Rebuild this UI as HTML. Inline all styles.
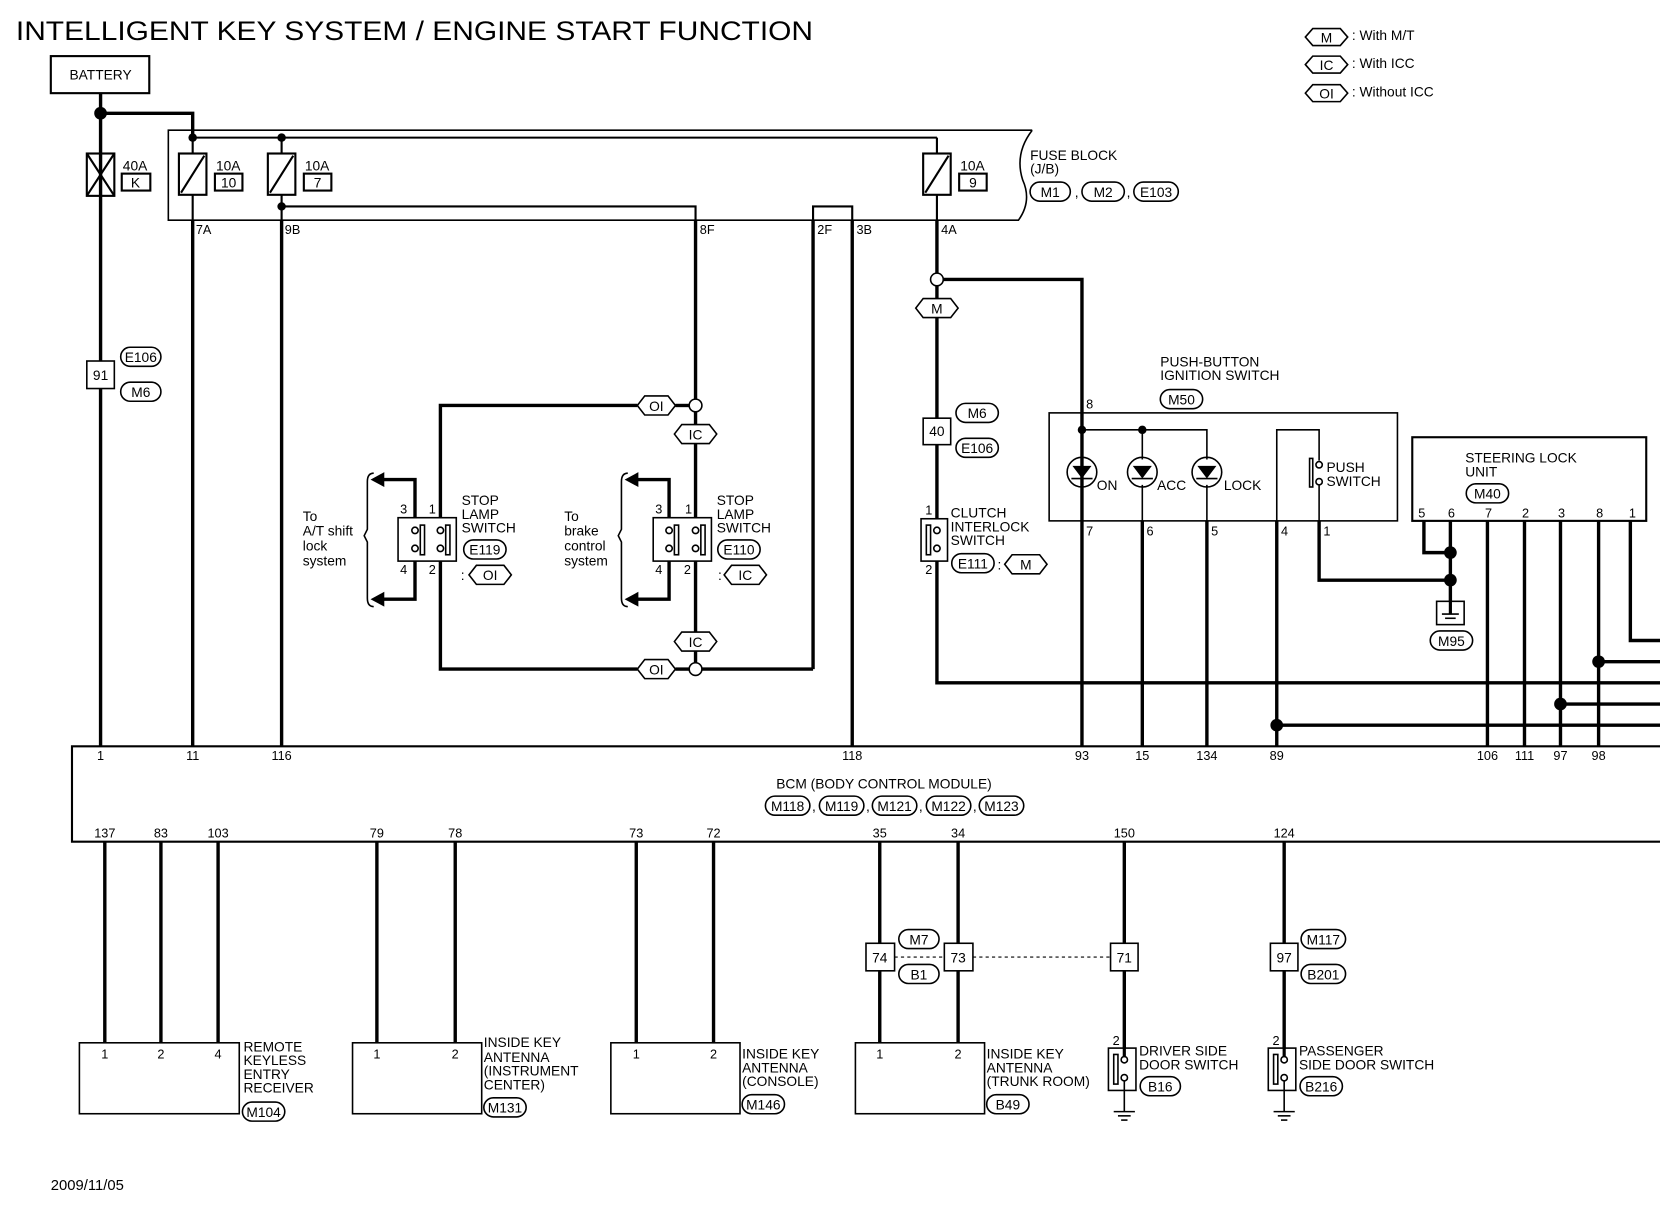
<!DOCTYPE html>
<html><head><meta charset="utf-8"><style>
html,body{margin:0;padding:0;background:#fff;}
svg{display:block;}
text{font-family:"Liberation Sans",sans-serif;fill:#000;}
</style></head><body>
<svg width="1660" height="1216" viewBox="0 0 1568 1148.6" preserveAspectRatio="none" xmlns="http://www.w3.org/2000/svg">
<defs>
<g id="gnd"><line x1="-10" y1="0" x2="10" y2="0" stroke="#000" stroke-width="1.5"/><line x1="-6" y1="4" x2="6" y2="4" stroke="#000" stroke-width="1.5"/><line x1="-3" y1="8" x2="3" y2="8" stroke="#000" stroke-width="1.5"/></g>
</defs>
<rect width="1568" height="1148.6" fill="#fff"/>
<text x="15" y="38" font-size="25" textLength="753" lengthAdjust="spacingAndGlyphs">INTELLIGENT KEY SYSTEM / ENGINE START FUNCTION</text>

<!-- legend -->
<g font-size="13" stroke-width="1.5">
<path d="M1233 35 L1240 27 L1266 27 L1273 35 L1266 43 L1240 43 Z" fill="none" stroke="#000"/><text x="1253" y="40" text-anchor="middle">M</text><text x="1277" y="38">: With M/T</text>
<path d="M1233 61 L1240 53 L1266 53 L1273 61 L1266 69 L1240 69 Z" fill="none" stroke="#000"/><text x="1253" y="66" text-anchor="middle">IC</text><text x="1277" y="64">: With ICC</text>
<path d="M1233 88 L1240 80 L1266 80 L1273 88 L1266 96 L1240 96 Z" fill="none" stroke="#000"/><text x="1253" y="93" text-anchor="middle">OI</text><text x="1277" y="91">: Without ICC</text>
</g>

<!-- battery -->
<rect x="48" y="53" width="93" height="35" fill="none" stroke="#000" stroke-width="2"/>
<text x="95" y="75" font-size="13" text-anchor="middle">BATTERY</text>

<!-- fuse block outline -->
<path d="M975 123 L159 123 L159 208 L962 208 Q975 190 966 170 Q958 145 975 123" fill="none" stroke="#000" stroke-width="1.5"/>
<text x="973" y="151" font-size="13">FUSE BLOCK</text>
<text x="973" y="164" font-size="13">(J/B)</text>

<g stroke="#000" fill="none">
<g stroke-width="3.2">
<line x1="95" y1="88" x2="95" y2="705"/>
<polyline points="95,107 182,107 182,130"/>
<line x1="182" y1="208" x2="182" y2="705"/>
<line x1="266" y1="208" x2="266" y2="705"/>
<line x1="657" y1="208" x2="657" y2="377"/>
<line x1="768" y1="208" x2="768" y2="632"/>
<line x1="805" y1="208" x2="805" y2="705"/>
<line x1="885" y1="208" x2="885" y2="258"/>
<polyline points="891,264 1022,264 1022,705"/>
<line x1="885" y1="270" x2="885" y2="282"/>
<line x1="885" y1="300" x2="885" y2="490"/>
<polyline points="885,530 885,645 1568,645"/>
<line x1="1079" y1="492" x2="1079" y2="705"/>
<line x1="1140" y1="492" x2="1140" y2="705"/>
<line x1="1206" y1="492" x2="1206" y2="705"/>
<polyline points="1206,685 1568,685"/>
<polyline points="1246,492 1246,548 1370,548"/>
<polyline points="1345,492 1345,522 1370,522"/>
<line x1="1370" y1="492" x2="1370" y2="568"/>
<line x1="1405" y1="492" x2="1405" y2="705"/>
<line x1="1440" y1="492" x2="1440" y2="705"/>
<line x1="1474" y1="492" x2="1474" y2="705"/>
<line x1="1510" y1="492" x2="1510" y2="705"/>
<polyline points="1540,492 1540,605 1568,605"/>
<line x1="1510" y1="625" x2="1568" y2="625"/>
<line x1="1474" y1="665" x2="1568" y2="665"/>
<polyline points="602,383 416,383 416,500"/>
<polyline points="416,530 416,632 602,632"/>
<line x1="638" y1="632" x2="651" y2="632"/>
<line x1="663" y1="632" x2="768" y2="632"/>
<line x1="638" y1="383" x2="651" y2="383"/>
<line x1="657" y1="389" x2="657" y2="401"/>
<line x1="657" y1="419" x2="657" y2="500"/>
<line x1="657" y1="530" x2="657" y2="597"/>
<line x1="657" y1="615" x2="657" y2="626"/>
<polyline points="392,500 392,453 362,453"/>
<polyline points="392,530 392,566 362,566"/>
<polyline points="632,500 632,453 602,453"/>
<polyline points="632,530 632,566 602,566"/>
<line x1="99" y1="795" x2="99" y2="985"/>
<line x1="152" y1="795" x2="152" y2="985"/>
<line x1="206" y1="795" x2="206" y2="985"/>
<line x1="356" y1="795" x2="356" y2="985"/>
<line x1="430" y1="795" x2="430" y2="985"/>
<line x1="601" y1="795" x2="601" y2="985"/>
<line x1="674" y1="795" x2="674" y2="985"/>
<line x1="831" y1="795" x2="831" y2="985"/>
<line x1="905" y1="795" x2="905" y2="985"/>
<line x1="1062" y1="795" x2="1062" y2="995"/>
<line x1="1213" y1="795" x2="1213" y2="995"/>
</g>
<g stroke-width="2">
<line x1="182" y1="130" x2="885" y2="130"/>
<line x1="182" y1="130" x2="182" y2="145"/>
<line x1="266" y1="130" x2="266" y2="145"/>
<line x1="885" y1="130" x2="885" y2="145"/>
<line x1="95" y1="145" x2="95" y2="185"/>
<line x1="182" y1="184" x2="182" y2="208"/>
<line x1="266" y1="184" x2="266" y2="208"/>
<line x1="885" y1="184" x2="885" y2="208"/>
<polyline points="266,195 657,195 657,208"/>
<polyline points="768,208 768,195 805,195 805,208"/>
</g>
<g stroke-width="2">
<rect x="82" y="145" width="26" height="40"/><line x1="82" y1="145" x2="108" y2="185"/><line x1="108" y1="145" x2="82" y2="185"/>
<rect x="169" y="145" width="26" height="39"/><line x1="171" y1="182" x2="193" y2="147"/>
<rect x="253" y="145" width="26" height="39"/><line x1="255" y1="182" x2="277" y2="147"/>
<rect x="872" y="145" width="26" height="39"/><line x1="874" y1="182" x2="896" y2="147"/>
<rect x="115" y="164" width="27" height="16"/>
<rect x="203" y="164" width="26" height="16"/>
<rect x="287" y="164" width="26" height="16"/>
<rect x="906" y="164" width="26" height="16"/>
</g>
</g>
<g font-size="13">
<text x="116" y="161">40A</text><text x="128" y="177" text-anchor="middle">K</text>
<text x="204" y="161">10A</text><text x="216" y="177" text-anchor="middle">10</text>
<text x="288" y="161">10A</text><text x="300" y="177" text-anchor="middle">7</text>
<text x="907" y="161">10A</text><text x="919" y="177" text-anchor="middle">9</text>
<text x="185" y="221" font-size="12">7A</text><text x="269" y="221" font-size="12">9B</text>
<text x="661" y="221" font-size="12">8F</text><text x="772" y="221" font-size="12">2F</text>
<text x="809" y="221" font-size="12">3B</text><text x="889" y="221" font-size="12">4A</text>
</g>
<g fill="#000">
<circle cx="95" cy="107" r="6"/>
<circle cx="182" cy="130" r="4"/><circle cx="266" cy="130" r="4"/><circle cx="266" cy="195" r="4"/>
<circle cx="1022" cy="406" r="4"/><circle cx="1079" cy="406" r="4"/>
<circle cx="1370" cy="522" r="6"/><circle cx="1370" cy="548" r="6"/>
<circle cx="1510" cy="625" r="6"/><circle cx="1474" cy="665" r="6"/><circle cx="1206" cy="685" r="6"/>
</g>
<g fill="#fff" stroke="#000" stroke-width="1.5">
<circle cx="885" cy="264" r="6"/><circle cx="657" cy="383" r="6"/><circle cx="657" cy="632" r="6"/>
</g>

<g fill="#fff" stroke="#000" stroke-width="1.5">
<rect x="973" y="172" width="38" height="18" rx="9"/>
<rect x="1022" y="172" width="40" height="18" rx="9"/>
<rect x="1071" y="172" width="42" height="18" rx="9"/>
<rect x="114" y="328" width="38" height="18" rx="9"/>
<rect x="114" y="361" width="38" height="18" rx="9"/>
<rect x="903" y="381" width="40" height="18" rx="9"/>
<rect x="903" y="414" width="40" height="18" rx="9"/>
<rect x="1096" y="368" width="40" height="18" rx="9"/>
<rect x="1385" y="457" width="40" height="18" rx="9"/>
<rect x="1351" y="596" width="40" height="18" rx="9"/>
<rect x="438" y="510" width="40" height="18" rx="9"/>
<rect x="678" y="510" width="40" height="18" rx="9"/>
<rect x="899" y="523" width="40" height="18" rx="9"/>
<rect x="723" y="752" width="42" height="18" rx="9"/>
<rect x="774" y="752" width="42" height="18" rx="9"/>
<rect x="824" y="752" width="42" height="18" rx="9"/>
<rect x="875" y="752" width="42" height="18" rx="9"/>
<rect x="925" y="752" width="42" height="18" rx="9"/>
<rect x="849" y="878" width="38" height="18" rx="9"/>
<rect x="849" y="911" width="38" height="18" rx="9"/>
<rect x="1229" y="878" width="42" height="18" rx="9"/>
<rect x="1229" y="911" width="42" height="18" rx="9"/>
<rect x="229" y="1041" width="40" height="18" rx="9"/>
<rect x="457" y="1037" width="40" height="18" rx="9"/>
<rect x="701" y="1034" width="40" height="18" rx="9"/>
<rect x="932" y="1034" width="40" height="18" rx="9"/>
<rect x="1077" y="1017" width="38" height="18" rx="9"/>
<rect x="1228" y="1017" width="40" height="18" rx="9"/>
</g>
<g font-size="13" text-anchor="middle">
<text x="992" y="186">M1</text><text x="1042" y="186">M2</text><text x="1092" y="186">E103</text>
<text x="1017" y="186">,</text><text x="1066" y="186">,</text>
<text x="133" y="342">E106</text><text x="133" y="375">M6</text>
<text x="923" y="395">M6</text><text x="923" y="428">E106</text>
<text x="1116" y="382">M50</text><text x="1405" y="471">M40</text><text x="1371" y="610">M95</text>
<text x="458" y="524">E119</text><text x="698" y="524">E110</text><text x="919" y="537">E111</text>
<text x="744" y="766">M118</text><text x="795" y="766">M119</text><text x="845" y="766">M121</text><text x="896" y="766">M122</text><text x="946" y="766">M123</text>
<text x="868" y="892">M7</text><text x="868" y="925">B1</text>
<text x="1250" y="892">M117</text><text x="1250" y="925">B201</text>
<text x="249" y="1055">M104</text><text x="477" y="1051">M131</text><text x="721" y="1048">M146</text><text x="952" y="1048">B49</text>
<text x="1096" y="1031">B16</text><text x="1248" y="1031">B216</text>
</g>

<g fill="#fff" stroke="#000" stroke-width="1.5">
<path d="M865 291 L872 282 L898 282 L905 291 L898 300 L872 300 Z"/>
<path d="M602 383 L609 374 L631 374 L638 383 L631 392 L609 392 Z"/>
<path d="M637 410 L644 401 L670 401 L677 410 L670 419 L644 419 Z"/>
<path d="M637 606 L644 597 L670 597 L677 606 L670 615 L644 615 Z"/>
<path d="M602 632 L609 623 L631 623 L638 632 L631 641 L609 641 Z"/>
<path d="M443 543 L450 534 L476 534 L483 543 L476 552 L450 552 Z"/>
<path d="M684 543 L691 534 L717 534 L724 543 L717 552 L691 552 Z"/>
<path d="M949 533 L956 524 L982 524 L989 533 L982 542 L956 542 Z"/>
</g>
<g font-size="13" text-anchor="middle">
<text x="885" y="296">M</text><text x="620" y="388">OI</text><text x="657" y="415">IC</text>
<text x="657" y="611">IC</text><text x="620" y="637">OI</text>
<text x="463" y="548">OI</text><text x="704" y="548">IC</text><text x="969" y="538">M</text>
<text x="437" y="548">:</text><text x="680" y="548">:</text><text x="944" y="538">:</text>
</g>

<g fill="#fff" stroke="#000" stroke-width="1.5">
<rect x="82" y="341" width="26" height="26"/>
<rect x="872" y="395" width="26" height="25"/>
</g>
<text x="95" y="359" font-size="13" text-anchor="middle">91</text>
<text x="885" y="412" font-size="13" text-anchor="middle">40</text>

<g fill="none" stroke="#000" stroke-width="1.5">
<rect x="376" y="489" width="55" height="41" fill="#fff"/>
<rect x="617" y="489" width="55" height="41" fill="#fff"/>
<circle cx="392" cy="501" r="3"/><circle cx="392" cy="518" r="3"/><circle cx="416" cy="501" r="3"/><circle cx="416" cy="518" r="3"/>
<circle cx="632" cy="501" r="3"/><circle cx="632" cy="518" r="3"/><circle cx="657" cy="501" r="3"/><circle cx="657" cy="518" r="3"/>
<rect x="397" y="496" width="4" height="28"/><rect x="421" y="496" width="4" height="28"/>
<rect x="637" y="496" width="4" height="28"/><rect x="662" y="496" width="4" height="28"/>
<path d="M353 447 Q347 447 347 455 L347 500 L344 506 L347 512 L347 565 Q347 573 353 573"/>
<path d="M593 447 Q587 447 587 455 L587 500 L584 506 L587 512 L587 565 Q587 573 593 573"/>
</g>
<g fill="#000">
<path d="M350 453 L363 446 L363 460 Z"/><path d="M350 566 L363 559 L363 573 Z"/>
<path d="M590 453 L603 446 L603 460 Z"/><path d="M590 566 L603 559 L603 573 Z"/>
</g>
<g font-size="12">
<text x="378" y="485">3</text><text x="405" y="485">1</text><text x="378" y="542">4</text><text x="405" y="542">2</text>
<text x="619" y="485">3</text><text x="647" y="485">1</text><text x="619" y="542">4</text><text x="646" y="542">2</text>
</g>
<g font-size="13">
<text x="436" y="477">STOP</text><text x="436" y="490">LAMP</text><text x="436" y="503">SWITCH</text>
<text x="677" y="477">STOP</text><text x="677" y="490">LAMP</text><text x="677" y="503">SWITCH</text>
<text x="286" y="492">To</text><text x="286" y="506">A/T shift</text><text x="286" y="520">lock</text><text x="286" y="534">system</text>
<text x="533" y="492">To</text><text x="533" y="506">brake</text><text x="533" y="520">control</text><text x="533" y="534">system</text>
</g>

<g fill="none" stroke="#000" stroke-width="1.5">
<rect x="870" y="490" width="25" height="40" fill="#fff"/>
<circle cx="885" cy="501" r="3"/><circle cx="885" cy="518" r="3"/>
<rect x="875" y="496" width="4" height="28"/>
</g>
<text x="874" y="486" font-size="12">1</text><text x="874" y="542" font-size="12">2</text>
<g font-size="13"><text x="898" y="489">CLUTCH</text><text x="898" y="502">INTERLOCK</text><text x="898" y="515">SWITCH</text></g>

<text x="1096" y="346" font-size="13">PUSH-BUTTON</text>
<text x="1096" y="359" font-size="13">IGNITION SWITCH</text>
<g fill="none" stroke="#000" stroke-width="1.5">
<rect x="991" y="390" width="329" height="102"/>
<polyline points="1022,406 1140,406 1140,434"/>
<line x1="1022" y1="406" x2="1022" y2="434"/>
<line x1="1079" y1="406" x2="1079" y2="434"/>
<circle cx="1022" cy="446" r="14"/><circle cx="1079" cy="446" r="14"/><circle cx="1140" cy="446" r="14"/>
<line x1="1022" y1="458" x2="1022" y2="492"/><line x1="1079" y1="458" x2="1079" y2="492"/><line x1="1140" y1="458" x2="1140" y2="492"/>
<line x1="1012" y1="452" x2="1032" y2="452"/><line x1="1069" y1="452" x2="1089" y2="452"/><line x1="1130" y1="452" x2="1150" y2="452"/>
<polyline points="1206,492 1206,406 1246,406 1246,435"/>
<circle cx="1246" cy="439" r="3"/><circle cx="1246" cy="455" r="3"/>
<line x1="1246" y1="458" x2="1246" y2="492"/>
<rect x="1237" y="433" width="3" height="27"/>
</g>
<g fill="#000"><path d="M1013 440 L1031 440 L1022 452 Z"/><path d="M1070 440 L1088 440 L1079 452 Z"/><path d="M1131 440 L1149 440 L1140 452 Z"/></g>
<g font-size="13">
<text x="1036" y="463">ON</text><text x="1093" y="463">ACC</text><text x="1156" y="463">LOCK</text>
<text x="1253" y="446">PUSH</text><text x="1253" y="459">SWITCH</text>
<text x="1026" y="386" font-size="12">8</text>
<text x="1026" y="506" font-size="12">7</text><text x="1083" y="506" font-size="12">6</text><text x="1144" y="506" font-size="12">5</text>
<text x="1210" y="506" font-size="12">4</text><text x="1250" y="506" font-size="12">1</text>
</g>

<rect x="1334" y="413" width="221" height="79" fill="none" stroke="#000" stroke-width="2"/>
<text x="1384" y="437" font-size="13">STEERING LOCK</text><text x="1384" y="450" font-size="13">UNIT</text>
<g font-size="12" text-anchor="middle">
<text x="1343" y="489">5</text><text x="1371" y="489">6</text><text x="1406" y="489">7</text><text x="1441" y="489">2</text><text x="1475" y="489">3</text><text x="1511" y="489">8</text><text x="1542" y="489">1</text>
</g>
<rect x="1357" y="568" width="26" height="22" fill="#fff" stroke="#000" stroke-width="1.5"/>
<line x1="1370" y1="568" x2="1370" y2="580" stroke="#000" stroke-width="3"/>
<line x1="1362" y1="580" x2="1378" y2="580" stroke="#000" stroke-width="1.5"/>
<line x1="1365" y1="584" x2="1375" y2="584" stroke="#000" stroke-width="1.5"/>

<polyline points="1568,705 68,705 68,795 1568,795" fill="none" stroke="#000" stroke-width="2"/>
<g font-size="12" text-anchor="middle">
<text x="95" y="718">1</text><text x="182" y="718">11</text><text x="266" y="718">116</text><text x="805" y="718">118</text>
<text x="1022" y="718">93</text><text x="1079" y="718">15</text><text x="1140" y="718">134</text><text x="1206" y="718">89</text>
<text x="1405" y="718">106</text><text x="1440" y="718">111</text><text x="1474" y="718">97</text><text x="1510" y="718">98</text>
<text x="99" y="791">137</text><text x="152" y="791">83</text><text x="206" y="791">103</text>
<text x="356" y="791">79</text><text x="430" y="791">78</text><text x="601" y="791">73</text><text x="674" y="791">72</text>
<text x="831" y="791">35</text><text x="905" y="791">34</text><text x="1062" y="791">150</text><text x="1213" y="791">124</text>
</g>
<text x="835" y="745" font-size="13" text-anchor="middle">BCM (BODY CONTROL MODULE)</text>
<g font-size="13"><text x="767" y="766">,</text><text x="818" y="766">,</text><text x="868" y="766">,</text><text x="919" y="766">,</text></g>

<g fill="#fff" stroke="#000" stroke-width="1.5">
<rect x="818" y="891" width="27" height="26"/><rect x="892" y="891" width="27" height="26"/>
<rect x="1049" y="891" width="26" height="26"/><rect x="1200" y="891" width="26" height="26"/>
</g>
<line x1="845" y1="904" x2="892" y2="904" stroke="#000" stroke-dasharray="3,3"/>
<line x1="919" y1="904" x2="1049" y2="904" stroke="#000" stroke-dasharray="3,3"/>
<g font-size="13" text-anchor="middle">
<text x="831" y="909">74</text><text x="905" y="909">73</text><text x="1062" y="909">71</text><text x="1213" y="909">97</text>
</g>

<g fill="none" stroke="#000" stroke-width="1.5">
<rect x="75" y="985" width="151" height="67"/>
<rect x="333" y="985" width="122" height="67"/>
<rect x="577" y="985" width="122" height="67"/>
<rect x="808" y="985" width="122" height="67"/>
</g>
<g font-size="12" text-anchor="middle">
<text x="99" y="1000">1</text><text x="152" y="1000">2</text><text x="206" y="1000">4</text>
<text x="356" y="1000">1</text><text x="430" y="1000">2</text>
<text x="601" y="1000">1</text><text x="674" y="1000">2</text>
<text x="831" y="1000">1</text><text x="905" y="1000">2</text>
</g>
<g font-size="13">
<text x="230" y="993">REMOTE</text><text x="230" y="1006">KEYLESS</text><text x="230" y="1019">ENTRY</text><text x="230" y="1032">RECEIVER</text>
<text x="457" y="989">INSIDE KEY</text><text x="457" y="1003">ANTENNA</text><text x="457" y="1016">(INSTRUMENT</text><text x="457" y="1029">CENTER)</text>
<text x="701" y="1000">INSIDE KEY</text><text x="701" y="1013">ANTENNA</text><text x="701" y="1026">(CONSOLE)</text>
<text x="932" y="1000">INSIDE KEY</text><text x="932" y="1013">ANTENNA</text><text x="932" y="1026">(TRUNK ROOM)</text>
<text x="1076" y="997">DRIVER SIDE</text><text x="1076" y="1010">DOOR SWITCH</text>
<text x="1227" y="997">PASSENGER</text><text x="1227" y="1010">SIDE DOOR SWITCH</text>
</g>

<g fill="none" stroke="#000" stroke-width="1.5">
<rect x="1047" y="990" width="26" height="40" fill="#fff"/>
<rect x="1198" y="990" width="26" height="40" fill="#fff"/>
<circle cx="1062" cy="1001" r="3"/><circle cx="1062" cy="1018" r="3"/>
<circle cx="1213" cy="1001" r="3"/><circle cx="1213" cy="1018" r="3"/>
<rect x="1052" y="996" width="4" height="28"/><rect x="1203" y="996" width="4" height="28"/>
<line x1="1062" y1="1021" x2="1062" y2="1050"/><line x1="1213" y1="1021" x2="1213" y2="1050"/>
</g>
<line x1="1062" y1="990" x2="1062" y2="998" stroke="#000" stroke-width="3"/>
<line x1="1213" y1="990" x2="1213" y2="998" stroke="#000" stroke-width="3"/>
<use href="#gnd" x="1062" y="1050"/><use href="#gnd" x="1213" y="1050"/>
<text x="1051" y="987" font-size="12">2</text><text x="1202" y="987" font-size="12">2</text>

<text x="48" y="1124" font-size="14">2009/11/05</text>
</svg>
</body></html>
